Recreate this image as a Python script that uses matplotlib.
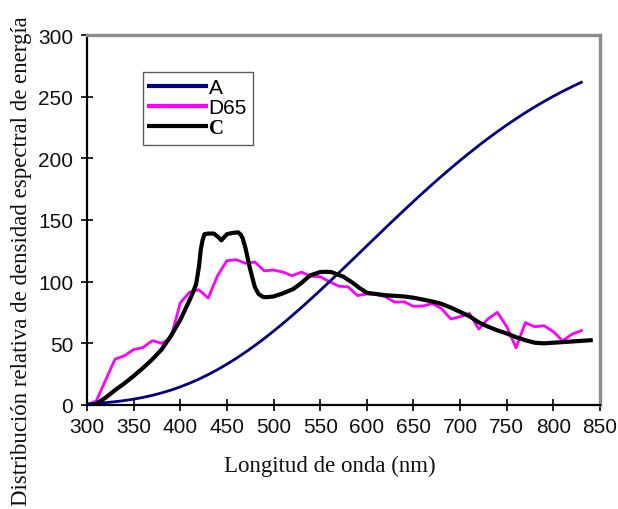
import numpy as np
import matplotlib
matplotlib.use("Agg")
import matplotlib.pyplot as plt

# Illuminant A (tungsten), 10 nm steps
a_nm = list(range(300, 831, 10))
a_val = [0.93, 1.36, 1.93, 2.66, 3.59, 4.74, 6.14, 7.82, 9.80, 12.09,
         14.71, 17.68, 20.99, 24.67, 28.70, 33.09, 37.81, 42.87, 48.24, 53.91,
         59.86, 66.06, 72.50, 79.13, 85.95, 92.91, 100.00, 107.18, 114.44, 121.73,
         129.04, 136.35, 143.62, 150.84, 157.98, 165.03, 171.96, 178.77, 185.43, 191.93,
         198.26, 204.41, 210.36, 216.12, 221.67, 227.00, 232.12, 237.01, 241.68, 246.12,
         250.33, 254.33, 258.10, 261.66]

# Illuminant D65 (daylight), 10 nm steps
d65_nm = list(range(300, 831, 10))
d65_val = [0.03, 3.3, 20.2, 37.1, 39.9, 44.9, 46.6, 52.1, 50.0, 54.6,
           82.8, 91.5, 93.4, 86.7, 104.9, 117.0, 117.8, 114.9, 115.9, 108.8,
           109.4, 107.8, 104.8, 107.7, 104.4, 104.0, 100.0, 96.3, 95.8, 88.7,
           90.0, 89.6, 87.7, 83.3, 83.7, 80.0, 80.2, 82.3, 78.3, 69.7,
           71.6, 74.3, 61.6, 69.9, 75.1, 63.6, 46.4, 66.8, 63.4, 64.3,
           59.5, 52.0, 57.4, 60.3]

# Illuminant C
c_nm = [308, 320, 330, 340, 350, 360, 370, 380, 390, 400, 405, 410, 414, 417,
        420, 422, 424, 426, 430, 436, 441, 444, 447, 450, 456, 462, 465, 467,
        470, 474, 477, 480, 484, 489, 494, 500, 510, 521, 530, 539, 550, 556,
        562, 568, 575, 585, 592, 600, 610, 620, 630, 640, 650, 660, 670, 680,
        690, 700, 710, 720, 730, 740, 750, 760, 770, 780, 790, 800, 810, 820,
        830, 840]
c_val = [0, 6, 12, 17.5, 23.5, 30, 37, 45, 56, 69, 77, 85, 92, 98,
         112, 126, 134, 138.5, 139, 139, 136, 133.5, 136, 138.5, 139.5, 140, 138, 135,
         127, 113, 104, 95.5, 90, 87.5, 87.5, 88, 90.5, 94, 99, 105, 107.8, 108,
         107.8, 106, 104, 99, 95, 91, 90, 89, 88.5, 88, 87, 85.5, 84, 82,
         79, 75.5, 72, 67, 63.5, 60.5, 58, 55, 52.5, 50.5, 50, 50.5, 51, 51.5,
         52, 52.5]

x_ticks = list(range(300, 851, 50))
y_ticks = list(range(0, 301, 50))

fig = plt.figure(figsize=(6.18, 5.10), dpi=100)
ax = fig.add_axes([87 / 618, 1 - 406 / 510, 513 / 618, 370 / 510])

ax.plot(a_nm, a_val, color="#000080", lw=2.0, label="A", zorder=3)
ax.plot(d65_nm, d65_val, color="#ff00ff", lw=2.0, label="D65", zorder=2)
ax.plot(c_nm, c_val, color="black", lw=3.0, label="C", zorder=4,
        solid_joinstyle="round")

ax.set_xlim(300, 850)
ax.set_ylim(0, 300)
ax.set_xticks(x_ticks)
ax.set_yticks(y_ticks)

tick_font = dict(family="Liberation Sans", size=15)
ax.set_xticklabels([str(t) for t in x_ticks], **tick_font)
ax.set_yticklabels([str(t) for t in y_ticks], **tick_font)
ax.tick_params(direction="inout", length=8, width=1.2, color="black",
               labelcolor="#111111")
ax.tick_params(axis="x", pad=5)
ax.tick_params(axis="y", pad=6)

for side in ("left", "bottom"):
    ax.spines[side].set_color("black")
    ax.spines[side].set_linewidth(1.6)
for side in ("top", "right"):
    ax.spines[side].set_color("#8c8c8c")
    ax.spines[side].set_linewidth(2.4)

leg = ax.legend(loc="upper left", bbox_to_anchor=(56 / 513, 1 - 37 / 370),
                frameon=True, fancybox=False, handlelength=2.7,
                handletextpad=0.15, labelspacing=0.05, borderpad=0.3,
                borderaxespad=0, prop=dict(family="Liberation Sans", size=15))
leg.get_frame().set_edgecolor("#333333")
leg.get_frame().set_linewidth(1.0)
for line in leg.get_lines():
    line.set_linewidth(3.0)
leg.get_texts()[2].set_family("Liberation Serif")
leg.get_texts()[2].set_weight("bold")

fig.text(330 / 618, 1 - 466 / 510, "Longitud de onda (nm)",
         family="Liberation Serif", size=16.5, ha="center", va="center",
         color="#111111")
fig.text(22 / 618, 1 - 261 / 510,
         "Distribución relativa de densidad espectral de energía",
         family="Liberation Serif", size=16.5, rotation=90,
         ha="center", va="center", color="#111111")

fig.savefig("out.png", dpi=100)
